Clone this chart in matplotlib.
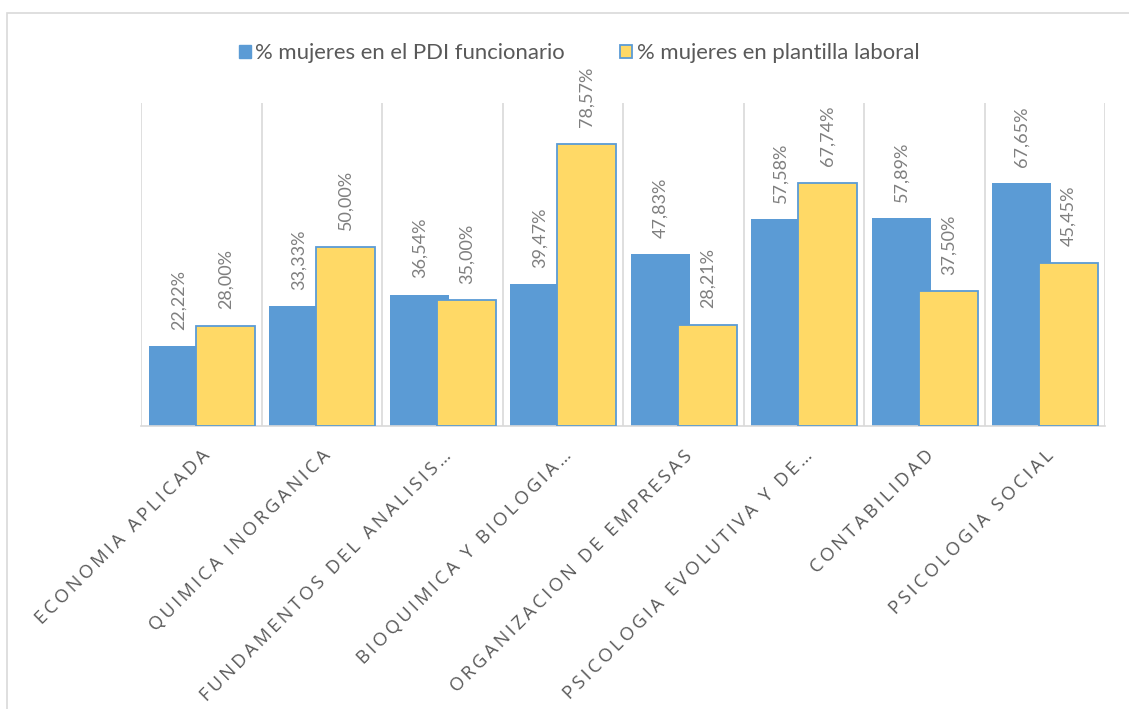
import matplotlib.pyplot as plt
from matplotlib.patches import Patch, Rectangle
import numpy as np

# Chart data
categories = [
    "ECONOMIA APLICADA",
    "QUIMICA INORGANICA",
    "FUNDAMENTOS DEL ANALISIS…",
    "BIOQUIMICA Y BIOLOGIA…",
    "ORGANIZACION DE EMPRESAS",
    "PSICOLOGIA EVOLUTIVA Y DE…",
    "CONTABILIDAD",
    "PSICOLOGIA SOCIAL",
]
pdi_funcionario = [22.22, 33.33, 36.54, 39.47, 47.83, 57.58, 57.89, 67.65]
plantilla_laboral = [28.00, 50.00, 35.00, 78.57, 28.21, 67.74, 37.50, 45.45]
series_names = ["% mujeres en el PDI funcionario", "% mujeres en plantilla laboral"]

colors = {
    'blue': '#5B9BD5',
    'yellow': '#FFD966',
    'grid': '#D9D9D9',
    'label': '#7F7F7F',
    'text': '#595959',
}

W, H = 1129, 709
fig = plt.figure(figsize=(W / 100, H / 100), dpi=100)
ax = fig.add_axes([141 / W, 1 - 426 / H, (1105 - 141) / W, (426 - 103) / H])

x = np.arange(len(categories))
bar_w = 0.49
x_blue = x - 0.189
x_yellow = x + 0.2

ax.bar(x_blue, pdi_funcionario, width=bar_w, color=colors['blue'], zorder=2)
ax.bar(x_yellow, plantilla_laboral, width=bar_w, color=colors['yellow'],
       edgecolor=colors['blue'], linewidth=1.3, zorder=3)

# Data labels, rotated
label_font = ['Lato', 'DejaVu Sans']
for xs, vals in ((x_blue, pdi_funcionario), (x_yellow, plantilla_laboral)):
    for xi, v in zip(xs, vals):
        ax.annotate(f"{v:.2f}%".replace('.', ','), xy=(xi, v), xytext=(0, 12),
                    textcoords='offset points', rotation=90, ha='center', va='bottom',
                    fontsize=13, color=colors['label'], family=label_font)

ax.set_xlim(-0.5, len(categories) - 0.5)
ax.set_ylim(0, 90)
ax.set_yticks([])

# Category separators
ax.set_xticks(np.arange(-0.5, len(categories), 1), minor=True)
ax.grid(which='minor', axis='x', color=colors['grid'], linewidth=1.2, zorder=0)
ax.tick_params(which='minor', length=0)

# Letter-spaced, rotated category labels
spaced = ["\u2009".join(c) for c in categories]
ax.set_xticks(x)
ax.set_xticklabels(spaced, rotation=45, ha='right', rotation_mode='anchor',
                   fontsize=13.3, color=colors['text'], family=['Open Sans', 'DejaVu Sans'])
ax.tick_params(axis='x', which='major', length=0, pad=15)

for side in ('top', 'right', 'left'):
    ax.spines[side].set_visible(False)
ax.spines['bottom'].set_color(colors['grid'])
ax.spines['bottom'].set_linewidth(1.2)

# Legend at top
handles = [
    Patch(facecolor=colors['blue'], edgecolor=colors['blue'], label=series_names[0]),
    Patch(facecolor=colors['yellow'], edgecolor=colors['blue'], linewidth=1.3, label=series_names[1]),
]
fig.legend(handles=handles, loc='center', bbox_to_anchor=(579 / W, 1 - 53 / H), ncol=2,
           frameon=False, handlelength=0.55, handleheight=0.55, handletextpad=0.2,
           columnspacing=2.5, prop={'family': label_font, 'size': 15.9},
           labelcolor=colors['text'])

# Chart-area border
fig.patches.append(Rectangle((7 / W, -0.05), 1.1, 1.05 - 13 / H, transform=fig.transFigure,
                             fill=False, edgecolor=colors['grid'], linewidth=1.2))

fig.savefig('out.png', dpi=100, facecolor='white')
